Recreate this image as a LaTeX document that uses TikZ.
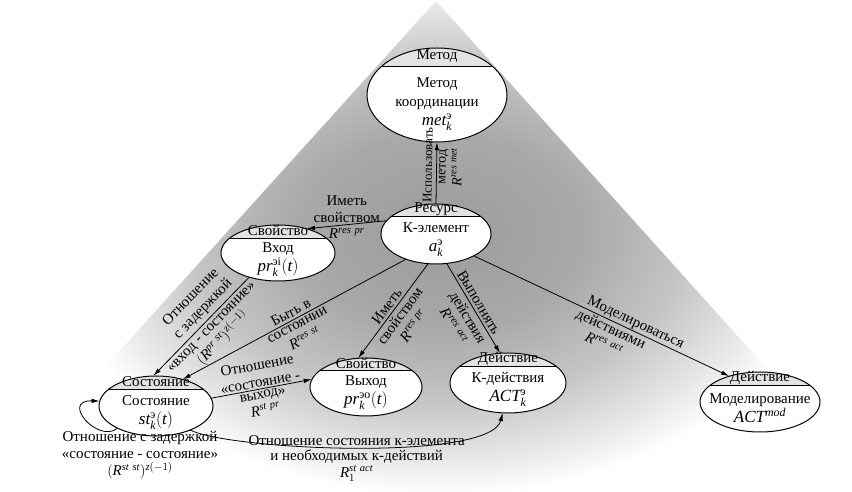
\documentclass[tikz,border=0pt]{standalone}
\usepackage{amsmath}
\usepackage{fontspec}
\setmainfont{Liberation Serif}
\usetikzlibrary{arrows.meta,shapes.geometric,calc}

% soft grey haze behind the model (25bp = edge of the shaded box)
\pgfdeclareradialshading{haze}{\pgfpoint{0bp}{0bp}}{%
  color(0bp)=(black!39); color(8bp)=(black!34); color(14bp)=(black!23);
  color(19bp)=(black!9); color(22bp)=(white); color(50bp)=(white)}

\newcommand\mline[1]{{\fontsize{17}{20}\selectfont $#1$}}

% entity: name, x, y, rx, ry, header line y, header text, body text
\newcommand\entity[8]{%
  \node[ellipse, fill=white, inner sep=0pt, minimum width=#4pt*2, minimum height=#5pt*2] (#1) at (#2,#3) {};
  \begin{scope}
    \clip (#2,#3) ellipse (#4pt and #5pt);
    \fill[headfill] (#2-#4,#6) rectangle (#2+#4,#3+#5);
    \draw[line width=0.9pt] (#2-#4,#6) -- (#2+#4,#6);
  \end{scope}
  \draw[line width=1pt] (#2,#3) ellipse (#4pt and #5pt);
  \node[txt] at (#2,{(#6+#3+#5)/2+1}) {#7};
  \node[txt] at (#2,{(#6+#3-#5)/2}) {#8};
}

\tikzset{
  txt/.style={font=\fontsize{15}{19}\selectfont, align=center, inner sep=0pt},
  lbl/.style={font=\fontsize{15}{17}\selectfont, align=center, inner sep=2.5pt},
  headfill/.style={fill=black!11},
  arr/.style={line width=0.8pt, -{Latex[length=8pt,width=4.5pt]}},
}

\begin{document}
\begin{tikzpicture}[x=1pt,y=1pt]
\useasboundingbox (0,0) rectangle (852,492);

% background triangle
\begin{scope}
  \clip (436,491) -- (-8,0) -- (878,0) -- cycle;
  \shade[shading=haze] (0,-40) rectangle (880,560);
\end{scope}

\entity{met}{437}{397}{70}{47}{426}{Метод}{Метод\\координации\\\mline{\mathit{met}_{\mathit{k}}^{\text{э}}}}
\entity{res}{436}{258}{55}{30}{276}{Ресурс}{К-элемент\\\mline{\mathit{a}_{\mathit{k}}^{\text{э}}}}
\entity{in}{278}{239}{57}{28}{254}{Свойство}{Вход\\\mline{\mathit{pr}_{\mathit{k}}^{\text{эi}}(\mathit{t})}}
\entity{st}{156}{86}{57}{30}{103}{Состояние}{Состояние\\\mline{\mathit{st}_{\mathit{k}}^{\text{э}}(\mathit{t})}}
\entity{out}{366}{105}{56}{29}{122}{Свойство}{Выход\\\mline{\mathit{pr}_{\mathit{k}}^{\text{эо}}(\mathit{t})}}
\entity{act}{508}{109}{58}{30}{126}{Действие}{К-действия\\\mline{\mathit{ACT}_{\mathit{k}}^{\text{э}}}}
\entity{mod}{760}{90}{60}{30}{107}{Действие}{Моделирование\\\mline{\mathit{ACT}^{\mathit{mod}}}}

% relations of the resource
\draw[arr] (res.north) -- (met.south)
  node[pos=0.63, sloped, above, lbl, inner sep=4pt, font=\fontsize{13}{15}\selectfont] {Использовать}
  node[pos=0.6, sloped, below, lbl, inner sep=2pt, font=\fontsize{14}{16}\selectfont] {метод\\$\mathit{R}^{\mathit{res\ met}}$};
\draw[arr] (res.165) -- (in.40)
  node[midway, above, lbl, inner sep=1.5pt] {Иметь\\свойством}
  node[midway, below, lbl, inner sep=3pt] {$\mathit{R}^{\mathit{res\ pr}}$};
\draw[arr] (res.220) -- (st.45)
  node[midway, sloped, above, lbl] {Быть в}
  node[midway, sloped, below, lbl] {состоянии\\$\mathit{R}^{\mathit{res\ st}}$};
\draw[arr] (res.255) -- (out.105)
  node[midway, sloped, above, lbl] {Иметь}
  node[midway, sloped, below, lbl] {свойством\\$\mathit{R}^{\mathit{res\ pr}}$};
\draw[arr] (res.290) -- (act.105)
  node[pos=0.48, sloped, above, lbl] {Выполнять}
  node[pos=0.55, sloped, below, lbl, inner sep=3.5pt] {действия\\$\mathit{R}^{\mathit{res\ act}}$};
\draw[arr] (res.330) -- (mod.140)
  node[pos=0.62, sloped, above, lbl, inner sep=1pt] {Моделироваться}
  node[pos=0.55, sloped, below, lbl, inner sep=1.5pt] {действиями\\$\mathit{R}^{\mathit{res\ act}}$};

% relations of the state
\draw[arr] (in.220) -- (st.95)
  node[pos=0.4, sloped, above, lbl, inner sep=3.5pt] {Отношение\\с задержкой}
  node[pos=0.45, sloped, below, lbl, inner sep=3.5pt] {«вход - состояние»\\$(\mathit{R}^{\mathit{pr\ st}})^{\mathit{z}(-1)}$};
\draw[arr] (st.8) -- (out.172)
  node[midway, sloped, above, lbl, inner sep=1.5pt] {Отношение\\«состояние -}
  node[midway, sloped, below, lbl, inner sep=2pt] {выход»\\$\mathit{R}^{\mathit{st\ pr}}$};
\draw[arr] (st.-35) .. controls (230,42) and (490,30) .. (act.-100)
  node[pos=0.5, above, lbl, inner sep=1pt] {Отношение состояния к-элемента}
  node[pos=0.5, below, lbl, inner sep=1.5pt] {и необходимых к-действий\\$\mathit{R}_1^{\mathit{st\ act}}$};
\draw[arr] (st.210) .. controls (98,48) and (60,92) .. (st.175);
\node[lbl] (loopl) at (140,37) {Отношение с задержкой\\«состояние - состояние»\\$(\mathit{R}^{\mathit{st\ st}})^{\mathit{z}(-1)}$};
\end{tikzpicture}
\end{document}
